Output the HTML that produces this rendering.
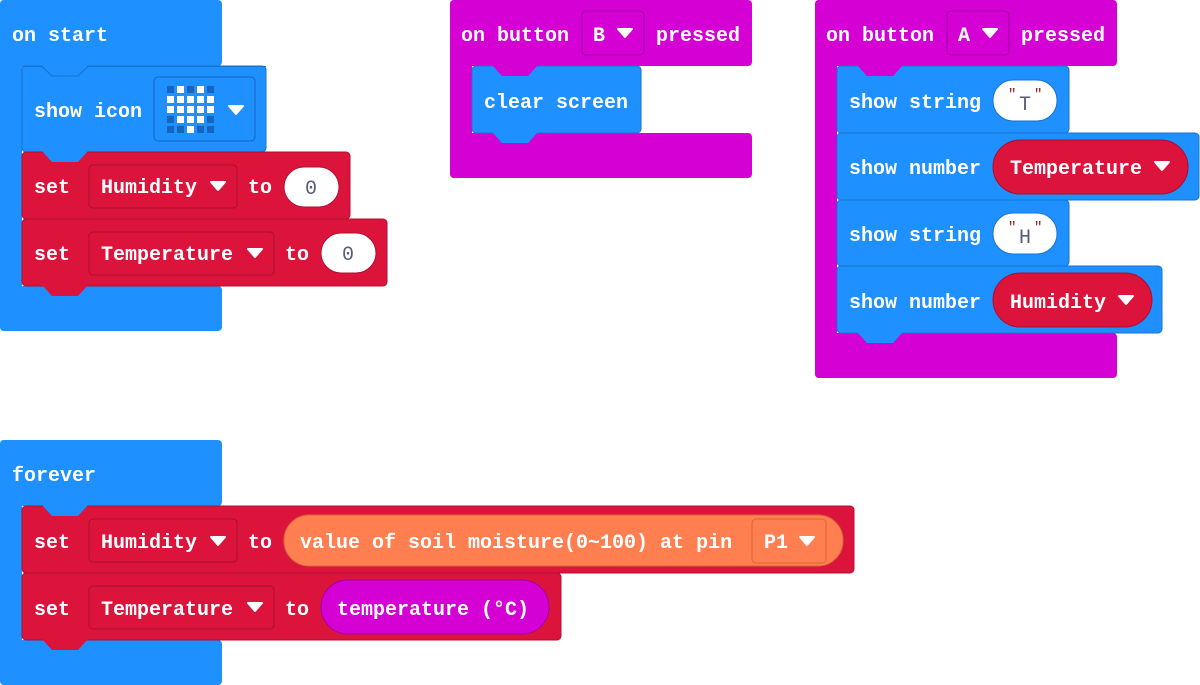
<!DOCTYPE html>
<html><head><meta charset="utf-8"><style>
html,body{margin:0;padding:0;background:#fff;width:1200px;height:685px;overflow:hidden}
svg text{font-family:"Liberation Mono",monospace;font-weight:bold;font-size:20px;fill:#fff}
</style></head><body>
<svg width="1200" height="685" viewBox="0 0 1200 685" xmlns="http://www.w3.org/2000/svg">
<defs>
<g id="arr"><polygon points="-7,-4 7,-4 0,4" fill="#fff" stroke="#fff" stroke-width="2" stroke-linejoin="round"/></g>
</defs>
<!-- on start -->
<g fill="#1e90ff">
<rect x="0" y="0" width="222" height="66" rx="4"/>
<rect x="0" y="0" width="22" height="331" rx="4"/>
<rect x="0" y="286" width="222" height="45" rx="4"/>
</g>
<rect x="22" y="66" width="244" height="86" rx="4" fill="#1e90ff" stroke="#1873cc"/>
<polygon points="42,65 52,76 78,76 88,65" fill="#1e90ff"/>
<polyline points="22,66.5 42,66.5 52,76 78,76 88,66.5 266,66.5" fill="none" stroke="#1873cc"/>
<rect x="22" y="152" width="328" height="67" rx="4" fill="#dc143c" stroke="#b01030"/>
<polygon points="42,151 52,162 78,162 88,151" fill="#1e90ff"/>
<rect x="22" y="219" width="365" height="67" rx="4" fill="#dc143c" stroke="#b01030"/>
<polygon points="42,285 52,296 78,296 88,285" fill="#dc143c"/>
<text x="12" y="41">on start</text>
<text x="34" y="117">show icon</text>
<rect x="154" y="77" width="101" height="64" rx="4" fill="none" stroke="#1565c0"/>
<g fill="#1565c0">
<rect x="167" y="86" width="7" height="7"/><rect x="187" y="86" width="7" height="7"/><rect x="207" y="86" width="7" height="7"/>
<rect x="167" y="116" width="7" height="7"/><rect x="207" y="116" width="7" height="7"/>
<rect x="167" y="126" width="7" height="7"/><rect x="177" y="126" width="7" height="7"/><rect x="197" y="126" width="7" height="7"/><rect x="207" y="126" width="7" height="7"/>
</g>
<g fill="#fff">
<rect x="177" y="86" width="7" height="7"/><rect x="197" y="86" width="7" height="7"/>
<rect x="167" y="96" width="7" height="7"/><rect x="177" y="96" width="7" height="7"/><rect x="187" y="96" width="7" height="7"/><rect x="197" y="96" width="7" height="7"/><rect x="207" y="96" width="7" height="7"/>
<rect x="167" y="106" width="7" height="7"/><rect x="177" y="106" width="7" height="7"/><rect x="187" y="106" width="7" height="7"/><rect x="197" y="106" width="7" height="7"/><rect x="207" y="106" width="7" height="7"/>
<rect x="177" y="116" width="7" height="7"/><rect x="187" y="116" width="7" height="7"/><rect x="197" y="116" width="7" height="7"/>
<rect x="187" y="126" width="7" height="7"/>
</g>
<use href="#arr" x="236" y="110"/>
<text x="34" y="193">set</text>
<rect x="89" y="165" width="148" height="43" rx="4" fill="none" stroke="#a80f2e"/>
<text x="101" y="193">Humidity</text><use href="#arr" x="218" y="186"/>
<text x="248" y="193">to</text>
<rect x="284" y="167" width="55" height="40" rx="20" fill="#fff" stroke="#b01030"/>
<text x="305" y="194" style="fill:#575e75;font-weight:normal">0</text>
<text x="34" y="260">set</text>
<rect x="89" y="232" width="185" height="43" rx="4" fill="none" stroke="#a80f2e"/>
<text x="101" y="260">Temperature</text><use href="#arr" x="255" y="253"/>
<text x="285" y="260">to</text>
<rect x="321" y="233" width="55" height="40" rx="20" fill="#fff" stroke="#b01030"/>
<text x="342" y="260" style="fill:#575e75;font-weight:normal">0</text>

<!-- button B -->
<g fill="#d400d4">
<rect x="450" y="0" width="302" height="66" rx="4"/>
<rect x="450" y="0" width="22" height="178" rx="4"/>
<rect x="450" y="133" width="302" height="45" rx="4"/>
</g>
<rect x="472" y="66" width="169" height="67" rx="4" fill="#1e90ff" stroke="#1873cc"/>
<polygon points="492,65 502,76 528,76 538,65" fill="#d400d4"/>
<polygon points="492,132 502,143 528,143 538,132" fill="#1e90ff"/>
<text x="461" y="41">on button</text>
<rect x="582" y="11" width="62" height="44" rx="4" fill="none" stroke="#a000a0"/>
<text x="593" y="41">B</text><use href="#arr" x="625" y="33"/>
<text x="656" y="41">pressed</text>
<text x="484" y="108">clear screen</text>

<!-- button A -->
<g fill="#d400d4">
<rect x="815" y="0" width="302" height="66" rx="4"/>
<rect x="815" y="0" width="22" height="378" rx="4"/>
<rect x="815" y="333" width="302" height="45" rx="4"/>
</g>
<rect x="837" y="66" width="232" height="67" rx="4" fill="#1e90ff" stroke="#1873cc"/>
<polygon points="857,65 867,76 893,76 903,65" fill="#d400d4"/>
<rect x="837" y="133" width="362" height="67" rx="4" fill="#1e90ff" stroke="#1873cc"/>
<rect x="837" y="200" width="232" height="66" rx="4" fill="#1e90ff" stroke="#1873cc"/>
<rect x="837" y="266" width="325" height="67" rx="4" fill="#1e90ff" stroke="#1873cc"/>
<polygon points="857,332 867,343 893,343 903,332" fill="#1e90ff"/>
<text x="826" y="41">on button</text>
<rect x="947" y="11" width="62" height="44" rx="4" fill="none" stroke="#a000a0"/>
<text x="958" y="41">A</text><use href="#arr" x="990" y="33"/>
<text x="1021" y="41">pressed</text>
<text x="849" y="108">show string</text>
<rect x="993" y="80" width="64" height="41" rx="20" fill="#fff" stroke="#1873cc"/>
<text x="1019" y="110" style="fill:#575e75;font-weight:normal">T</text>
<text x="1008" y="98" style="fill:#a31515;font-size:14px;font-weight:normal">"</text>
<text x="1034" y="98" style="fill:#a31515;font-size:14px;font-weight:normal">"</text>
<text x="849" y="174">show number</text>
<rect x="993" y="140" width="195" height="54" rx="27" fill="#dc143c" stroke="#a80f2e"/>
<text x="1010" y="174">Temperature</text><use href="#arr" x="1162" y="166"/>
<text x="849" y="241">show string</text>
<rect x="993" y="213" width="64" height="41" rx="20" fill="#fff" stroke="#1873cc"/>
<text x="1019" y="243" style="fill:#575e75;font-weight:normal">H</text>
<text x="1008" y="231" style="fill:#a31515;font-size:14px;font-weight:normal">"</text>
<text x="1034" y="231" style="fill:#a31515;font-size:14px;font-weight:normal">"</text>
<text x="849" y="308">show number</text>
<rect x="993" y="273" width="159" height="54" rx="27" fill="#dc143c" stroke="#a80f2e"/>
<text x="1010" y="308">Humidity</text><use href="#arr" x="1126" y="300"/>

<!-- forever -->
<g fill="#1e90ff">
<rect x="0" y="440" width="222" height="66" rx="4"/>
<rect x="0" y="440" width="22" height="245" rx="4"/>
<rect x="0" y="640" width="222" height="45" rx="4"/>
</g>
<rect x="22" y="506" width="832" height="67" rx="4" fill="#dc143c" stroke="#b01030"/>
<polygon points="42,505 52,516 78,516 88,505" fill="#1e90ff"/>
<rect x="22" y="573" width="539" height="67" rx="4" fill="#dc143c" stroke="#b01030"/>
<polygon points="42,639 52,650 78,650 88,639" fill="#dc143c"/>
<text x="12" y="481">forever</text>
<text x="34" y="548">set</text>
<rect x="89" y="519" width="148" height="43" rx="4" fill="none" stroke="#a80f2e"/>
<text x="101" y="548">Humidity</text><use href="#arr" x="218" y="541"/>
<text x="248" y="548">to</text>
<rect x="284" y="515" width="559" height="51" rx="25" fill="#ff7f50" stroke="#d9663a"/>
<text x="300" y="548">value of soil moisture(0~100) at pin</text>
<rect x="752" y="519" width="74" height="44" rx="4" fill="none" stroke="#d9663a"/>
<text x="764" y="548">P1</text><use href="#arr" x="807" y="541"/>
<text x="34" y="615">set</text>
<rect x="89" y="586" width="185" height="43" rx="4" fill="none" stroke="#a80f2e"/>
<text x="101" y="615">Temperature</text><use href="#arr" x="255" y="607"/>
<text x="285" y="615">to</text>
<rect x="321" y="580" width="228" height="54" rx="27" fill="#d400d4" stroke="#a000a0"/>
<text x="337" y="615">temperature (°C)</text>
</svg>
</body></html>
